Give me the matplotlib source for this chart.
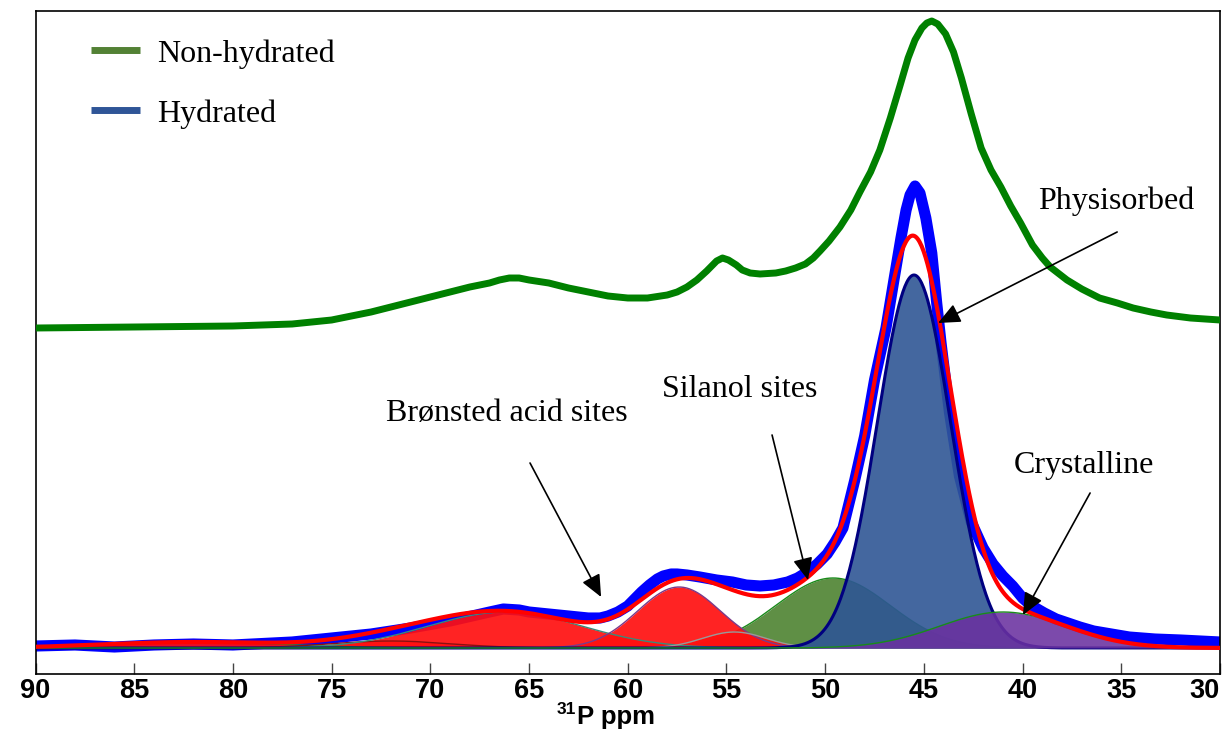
import numpy as np
import matplotlib
matplotlib.use("Agg")
import matplotlib.pyplot as plt
from matplotlib.lines import Line2D

# non-hydrated spectrum (ppm, intensity a.u.)
dry_ppm = [90, 85, 80, 77, 75, 73, 71, 69, 68, 67, 66.5, 66, 65.5, 65, 64, 63, 62,
           61, 60, 59, 58, 57.5, 57, 56.5, 56, 55.8, 55.5, 55.2, 54.9, 54.5, 54.2,
           53.8, 53.3, 52.5, 52, 51.5, 51, 50.6, 50.26, 49.8, 49.25, 48.7, 48.24,
           47.7, 47.23, 46.7, 46.2, 45.8, 45.45, 45.1, 44.85, 44.6, 44.3, 43.9,
           43.5, 43.1, 42.6, 42.1, 41.6, 41.1, 40.6, 40.1, 39.5, 39, 38.6, 37.75,
           37, 36.1, 35.2, 34.4, 33.5, 32.7, 31.5, 30]
dry_int = [320, 321, 322, 324, 328, 336, 346, 356, 361, 365, 368, 370, 370, 368,
           365, 360, 356, 352, 350, 350, 353, 356, 361, 368, 377, 381, 387, 390,
           388, 383, 378, 375, 374, 375, 377, 380, 384, 390, 397, 407, 421, 438,
           456, 476, 498, 530, 563, 590, 608, 620, 625, 627, 624, 614, 596, 570,
           534, 500, 478, 461, 442, 425, 403, 390, 381, 368, 359, 350, 345, 340,
           336, 333, 330, 328]

# hydrated spectrum
wet_ppm = [90, 88, 86, 84, 82, 80, 78, 77, 75, 73, 71, 69, 67, 66.3, 65.5, 65, 64,
           63, 62, 61.4, 61, 60.5, 60, 59.7, 59.3, 58.9, 58.5, 58.2, 57.8, 57.5,
           57, 56.35, 55.5, 54.7, 54, 53.3, 52.6, 51.9, 51.4, 50.9, 50.4, 49.9,
           49.5, 49.1, 48.5, 48, 47.5, 46.92, 46.5, 46.16, 45.9, 45.7, 45.45,
           45.2, 44.9, 44.6, 44.35, 44.13, 43.7, 43.2, 42.6, 42.0, 41.5, 41.0,
           40.5, 40.0, 39.6, 38.9, 38.3, 37.7, 37.1, 36.4, 35.8, 34.6, 33.3, 32,
           30]
wet_int = [2, 3, 1, 3, 4, 3, 5, 6, 10, 14, 20, 27, 36, 39, 38, 36, 34, 32, 30, 30,
           32, 36, 42, 48, 56, 63, 69, 72, 74, 74, 73, 71, 68, 66, 63, 62, 63, 66,
           70, 76, 84, 94, 106, 120, 168, 212, 268, 320, 370, 410, 438, 453, 462,
           455, 430, 395, 345, 305, 235, 172, 126, 100, 84, 72, 62, 50, 43, 35,
           29, 25, 21, 17, 15, 11, 9, 8, 6]

# fitted components: centre (ppm), height, width (ppm)
bronsted_pos = [82.0, 72.0, 66.2, 57.4, 54.6]
bronsted_amp = [6, 7, 36, 61, 16]
bronsted_wid = [4.5, 3.0, 3.9, 2.1, 1.6]
silanol_fit = (49.6, 70, 2.9)
physis_fit = (45.5, 373, 1.85)
cryst_fit = (41.0, 36, 3.2)

x = np.linspace(30, 90, 1200)


def gauss(c, a, w):
    return a * np.exp(-0.5 * ((x - c) / w) ** 2)


fig = plt.figure(figsize=(12.28, 7.30), dpi=100)
ax = fig.add_axes([35.5 / 1228, 56 / 730, 1184.5 / 1228, 663 / 730])

ax.plot(wet_ppm, wet_int, color='#0000ff', lw=8, solid_capstyle='butt',
        solid_joinstyle='round', zorder=1)

sil = gauss(*silanol_fit)
ax.fill_between(x, 0, sil, color='#5f8f45', lw=0, zorder=2)
ax.plot(x, sil, color='#1a8a1a', lw=1, zorder=2.1)

total = sil.copy()
edge_cols = ['#2a8a2a', '#8a1010', '#3a8a7a', '#7a3a8a', '#999999']
for c, a, w, ec in zip(bronsted_pos, bronsted_amp, bronsted_wid, edge_cols):
    g = gauss(c, a, w)
    total += g
    ax.fill_between(x, 0, g, color='#ff1010', alpha=0.92, lw=0, zorder=3)
    ax.plot(x, g, color=ec, lw=1, zorder=3.1)

phy = gauss(*physis_fit)
total += phy
ax.fill_between(x, 0, phy, color='#2f5695', alpha=0.9, lw=0, zorder=4)
ax.plot(x, phy, color='#000080', lw=2.2, zorder=4.1)

cry = gauss(*cryst_fit)
total += cry
ax.fill_between(x, 0, cry, color='#6a31a0', alpha=0.88, lw=0, zorder=5)
ax.plot(x, cry, color='#1a8a1a', lw=1, zorder=5.1)

ax.plot(x, total, color='#ff0000', lw=3, zorder=6)
ax.plot(dry_ppm, dry_int, color='#008000', lw=5, solid_joinstyle='round', zorder=7)

# labels and arrows
serif = dict(family='Liberation Serif', size=23)
notes = [
    ('Physisorbed', (35.26, 439), (35.21, 416), (44.28, 325)),
    ('Brønsted acid sites', (66.12, 227), (64.95, 185), (61.35, 51)),
    ('Silanol sites', (54.34, 251), (52.69, 213), (50.87, 68)),
    ('Crystalline', (36.88, 175), (36.58, 155), (39.98, 33)),
]
for txt, tpos, start, tip in notes:
    ax.text(tpos[0], tpos[1], txt, ha='center', va='baseline', fontdict=serif, zorder=9)
    ax.annotate('', xy=tip, xytext=start, zorder=9,
                arrowprops=dict(arrowstyle='-|>,head_length=0.9,head_width=0.4',
                                color='black', lw=1.2, mutation_scale=15,
                                shrinkA=0, shrinkB=0))

handles = [Line2D([], [], color='#538135', lw=5, solid_capstyle='butt'),
           Line2D([], [], color='#2f5597', lw=5, solid_capstyle='butt')]
ax.legend(handles, ['Non-hydrated', 'Hydrated'], loc='upper left',
          bbox_to_anchor=(0.0469, 0.9575), frameon=False, prop=serif,
          handlelength=1.54, handletextpad=0.53, labelspacing=0.95,
          borderpad=0, borderaxespad=0)

ax.set_xlim(90, 30)
ax.set_ylim(-26, 637)
ax.set_xticks(np.arange(90, 29, -5))
ax.set_yticks([])
ax.tick_params(axis='x', direction='in', length=8, width=1, color='#444444', pad=3,
               labelsize=19.5)
for lab in ax.get_xticklabels():
    lab.set_fontfamily('Liberation Sans')
    lab.set_fontweight('bold')
ax.get_xticklabels()[-1].set_ha('right')
for sp in ax.spines.values():
    sp.set_linewidth(1.2)

# axis title: "31" superscript + "P ppm"
sans_bold = dict(family='Liberation Sans', weight='bold')
fig.text(577 / 1228, 6 / 730, 'P ppm', ha='left', va='baseline', size=18.5, **sans_bold)
fig.text(576 / 1228, 16 / 730, '31', ha='right', va='baseline', size=12.5, **sans_bold)

fig.savefig('out.png', dpi=100)
